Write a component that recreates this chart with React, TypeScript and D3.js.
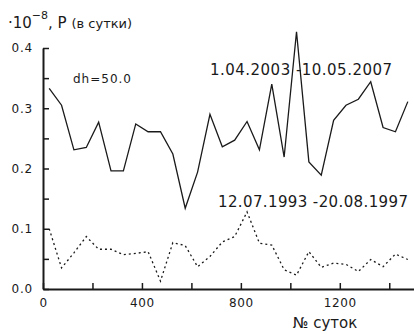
import { useEffect, useRef } from 'react'
import * as d3 from 'd3'

// day index of each point (dh = 50)
const days = [25, 75, 125, 175, 225, 275, 325, 375, 425, 475, 525, 575, 625, 675, 725, 775, 825, 875, 925, 975, 1025, 1075, 1125, 1175, 1225, 1275, 1325, 1375, 1425, 1475]

// 1.04.2003 - 10.05.2007 (solid)
const series2003 = [0.333, 0.305, 0.231, 0.235, 0.277, 0.196, 0.196, 0.274, 0.261, 0.261, 0.224, 0.134, 0.194, 0.290, 0.236, 0.247, 0.278, 0.231, 0.340, 0.219, 0.427, 0.211, 0.189, 0.280, 0.305, 0.315, 0.344, 0.268, 0.261, 0.311]

// 12.07.1993 - 20.08.1997 (dotted)
const series1993 = [0.100, 0.035, 0.060, 0.087, 0.066, 0.066, 0.057, 0.059, 0.062, 0.013, 0.077, 0.072, 0.037, 0.054, 0.078, 0.087, 0.128, 0.076, 0.073, 0.032, 0.023, 0.062, 0.036, 0.043, 0.041, 0.029, 0.049, 0.037, 0.058, 0.049]

const yTicks = [0, 0.05, 0.1, 0.15, 0.2, 0.25, 0.3, 0.35, 0.4]
const yLabels = [0, 0.1, 0.2, 0.3, 0.4]
const xTicks = [0, 200, 400, 600, 800, 1000, 1200, 1400]
const xLabels = [0, 400, 800, 1200]

export default function App() {
  const svgRef = useRef<SVGSVGElement>(null)

  useEffect(() => {
    if (!svgRef.current) return
    const svg = d3.select(svgRef.current)
    svg.selectAll('*').remove()

    const font = '"DejaVu Sans", sans-serif'
    const ink = '#1a1a1a'

    const x = d3.scaleLinear().domain([0, 1500]).range([43, 414])
    const y = d3.scaleLinear().domain([0, 0.4]).range([289, 48])

    // Y axis
    const yAxis = svg.append('g')
      .attr('transform', `translate(${x(0)},0)`)
      .call(d3.axisLeft(y)
        .tickValues(yTicks)
        .tickSize(-6)
        .tickSizeOuter(0)
        .tickPadding(10)
        .tickFormat(d => (yLabels.some(v => Math.abs(v - +d) < 1e-9) ? d3.format('.1f')(+d) : '')))
    yAxis.select('.domain').attr('stroke', ink).attr('stroke-width', 2)
    yAxis.selectAll('.tick line').attr('stroke', ink).attr('stroke-width', 1.5)
    yAxis.selectAll('text')
      .attr('fill', ink)
      .attr('font-family', font)
      .attr('font-size', 12)
      .attr('letter-spacing', 0.8)

    // X axis
    const xAxis = svg.append('g')
      .attr('transform', `translate(0,${y(0)})`)
      .call(d3.axisBottom(x)
        .tickValues(xTicks)
        .tickSize(-6)
        .tickSizeOuter(0)
        .tickPadding(9)
        .tickFormat(d => (xLabels.includes(+d) ? String(d) : '')))
    xAxis.select('.domain').attr('stroke', ink).attr('stroke-width', 2)
    xAxis.selectAll('.tick line').attr('stroke', ink).attr('stroke-width', 1.5)
    xAxis.selectAll('text')
      .attr('fill', ink)
      .attr('font-family', font)
      .attr('font-size', 12)
      .attr('letter-spacing', 0.6)

    const line = d3.line<number>()
      .x((_, i) => x(days[i]))
      .y(d => y(d))

    svg.append('path')
      .datum(series1993)
      .attr('fill', 'none')
      .attr('stroke', ink)
      .attr('stroke-width', 1.3)
      .attr('stroke-dasharray', '2,3')
      .attr('d', line)

    svg.append('path')
      .datum(series2003)
      .attr('fill', 'none')
      .attr('stroke', ink)
      .attr('stroke-width', 1.3)
      .attr('d', line)

    // Annotations
    svg.append('text')
      .attr('x', 210).attr('y', 75)
      .attr('font-family', font).attr('font-size', 15).attr('fill', ink)
      .attr('textLength', 182).attr('lengthAdjust', 'spacing')
      .text('1.04.2003 -10.05.2007')

    svg.append('text')
      .attr('x', 218).attr('y', 207)
      .attr('font-family', font).attr('font-size', 15).attr('fill', ink)
      .attr('textLength', 190).attr('lengthAdjust', 'spacing')
      .text('12.07.1993 -20.08.1997')

    svg.append('text')
      .attr('x', 73).attr('y', 83)
      .attr('font-family', font).attr('font-size', 12).attr('fill', ink)
      .attr('textLength', 58).attr('lengthAdjust', 'spacing')
      .text('dh=50.0')

    svg.append('text')
      .attr('x', 325).attr('y', 328)
      .attr('text-anchor', 'middle')
      .attr('font-family', font).attr('font-size', 15).attr('fill', ink)
      .text('№ суток')

    // Title with superscript
    const title = svg.append('text')
      .attr('x', 8).attr('y', 28)
      .attr('font-family', font).attr('fill', ink)
    title.append('tspan').attr('font-size', 15).text('·10')
    title.append('tspan').attr('font-size', 11).attr('dy', -9).text('−8')
    title.append('tspan').attr('font-size', 15).attr('dy', 9).text(', P ')
    title.append('tspan').attr('font-size', 13).text('(в сутки)')
  }, [])

  return (
    <svg
      ref={svgRef}
      width={414}
      height={334}
      style={{ position: 'absolute', left: 0, top: 0, background: '#fff' }}
    />
  )
}
